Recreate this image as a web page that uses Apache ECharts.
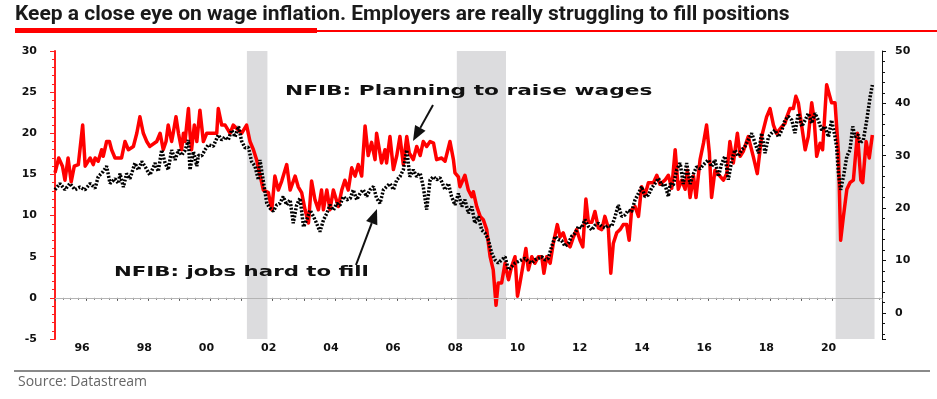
<!DOCTYPE html>
<html>
<head>
<meta charset="utf-8">
<script src="https://cdn.jsdelivr.net/npm/echarts@6/dist/echarts.min.js"></script>
<style>
  html, body { margin: 0; padding: 0; background: #fff; }
  #chart { width: 937px; height: 399px; }
</style>
</head>
<body>
<div id="chart"></div>
<script>
// NFIB: planning to raise wages (left axis), [decimal year, %]
var wagePlans = [
  [1995.00,15.2],[1995.12,17.0],[1995.24,16.0],[1995.32,14.3],[1995.42,17.0],[1995.52,14.1],[1995.62,16.0],[1995.75,16.2],
  [1995.89,21.0],[1995.97,16.0],[1996.13,17.0],[1996.23,16.2],[1996.29,17.0],[1996.39,16.6],[1996.50,18.0],[1996.55,17.2],
  [1996.66,19.0],[1996.75,19.0],[1996.82,18.0],[1996.93,17.0],[1997.14,17.0],[1997.25,19.0],[1997.36,18.0],[1997.52,18.4],
  [1997.63,20.0],[1997.73,22.0],[1997.84,20.0],[1997.95,19.0],[1998.05,18.4],[1998.27,19.0],[1998.38,20.0],[1998.48,18.0],
  [1998.57,19.0],[1998.64,21.0],[1998.75,19.0],[1998.80,20.0],[1998.89,22.0],[1998.97,20.0],[1999.07,18.0],[1999.13,20.0],
  [1999.18,19.0],[1999.29,23.0],[1999.34,20.0],[1999.39,18.0],[1999.48,21.0],[1999.56,19.0],[1999.66,22.8],[1999.77,19.0],
  [1999.88,20.0],[2000.20,20.0],[2000.25,23.0],[2000.36,21.0],[2000.47,21.0],[2000.63,20.0],[2000.73,21.0],[2001.00,20.0],
  [2001.16,21.0],[2001.27,19.0],[2001.38,18.0],[2001.48,16.8],[2001.70,13.1],[2001.86,12.8],[2001.97,10.7],[2002.07,14.8],
  [2002.18,13.1],[2002.29,14.2],[2002.45,16.2],[2002.56,13.1],[2002.72,14.8],[2002.82,13.5],[2002.93,12.8],[2003.04,10.7],
  [2003.15,9.1],[2003.25,14.2],[2003.36,11.9],[2003.47,10.7],[2003.57,13.1],[2003.63,10.7],[2003.74,13.1],[2003.84,10.7],
  [2003.95,13.1],[2004.11,11.1],[2004.22,13.1],[2004.32,14.3],[2004.43,13.1],[2004.54,15.8],[2004.65,14.8],[2004.75,16.2],
  [2004.86,14.8],[2004.97,20.9],[2005.07,17.3],[2005.18,18.9],[2005.29,16.8],[2005.34,20.0],[2005.50,16.4],[2005.61,18.0],
  [2005.66,16.4],[2005.77,19.6],[2005.88,15.6],[2005.99,17.3],[2006.09,19.6],[2006.20,16.2],[2006.31,19.6],[2006.39,17.6],
  [2006.52,16.8],[2006.63,18.4],[2006.74,17.3],[2006.84,19.0],[2006.95,18.4],[2007.06,19.0],[2007.17,18.8],[2007.27,16.8],
  [2007.43,17.0],[2007.54,16.6],[2007.70,19.0],[2007.81,16.8],[2007.86,15.2],[2007.97,14.7],[2008.02,13.5],[2008.18,14.9],
  [2008.29,13.1],[2008.40,12.3],[2008.45,12.9],[2008.56,11.1],[2008.67,9.9],[2008.77,9.5],[2008.88,8.3],[2008.99,5.0],
  [2009.09,3.4],[2009.18,-0.9],[2009.25,1.8],[2009.36,1.8],[2009.47,4.2],[2009.58,2.2],[2009.68,3.8],[2009.79,5.0],
  [2009.87,0.2],[2009.95,1.8],[2010.06,4.2],[2010.14,6.0],[2010.22,3.4],[2010.33,5.0],[2010.43,4.2],[2010.54,5.0],
  [2010.65,5.0],[2010.72,3.0],[2010.81,5.0],[2010.92,4.2],[2011.02,6.6],[2011.15,8.9],[2011.24,7.4],[2011.34,7.9],
  [2011.45,6.6],[2011.56,6.2],[2011.67,7.4],[2011.77,8.3],[2011.88,7.0],[2011.97,6.2],[2012.07,12.0],[2012.15,9.2],
  [2012.26,9.2],[2012.36,10.5],[2012.47,8.5],[2012.58,8.3],[2012.68,9.9],[2012.79,8.5],[2012.87,3.0],[2012.95,6.6],
  [2013.06,7.9],[2013.17,8.3],[2013.27,8.9],[2013.38,8.9],[2013.46,7.0],[2013.54,10.7],[2013.65,11.1],[2013.76,9.9],
  [2013.86,13.5],[2013.97,12.5],[2014.08,14.0],[2014.24,14.0],[2014.35,14.9],[2014.45,13.8],[2014.51,14.0],[2014.61,14.3],
  [2014.72,14.9],[2014.83,13.3],[2014.94,18.0],[2015.04,13.2],[2015.15,14.3],[2015.26,13.2],[2015.33,15.5],[2015.42,12.2],
  [2015.53,14.8],[2015.61,12.2],[2015.74,16.8],[2015.85,18.8],[2015.95,21.0],[2016.04,17.6],[2016.11,12.2],[2016.22,15.5],
  [2016.38,14.8],[2016.49,14.3],[2016.60,15.1],[2016.70,19.0],[2016.81,16.4],[2016.94,20.0],[2017.03,17.2],[2017.13,17.8],
  [2017.29,19.6],[2017.45,17.2],[2017.58,15.1],[2017.72,19.6],[2017.88,22.0],[2017.99,23.0],[2018.10,21.0],[2018.20,20.0],
  [2018.37,20.8],[2018.47,21.2],[2018.53,22.0],[2018.63,23.0],[2018.74,23.0],[2018.82,24.5],[2018.90,23.7],[2018.98,21.6],
  [2019.12,18.0],[2019.22,19.6],[2019.33,23.7],[2019.41,21.6],[2019.49,17.2],[2019.60,18.8],[2019.68,18.0],[2019.81,25.9],
  [2019.97,23.7],[2020.08,23.7],[2020.19,17.6],[2020.26,7.0],[2020.35,9.9],[2020.46,13.2],[2020.56,14.0],[2020.67,14.3],
  [2020.80,20.0],[2020.91,14.3],[2020.97,14.0],[2021.08,19.0],[2021.18,17.0],[2021.28,19.8]
];

// NFIB: jobs hard to fill (right axis), [decimal year, %]
var hardToFill = [
  [1995.00,23.5],[1995.16,24.7],[1995.32,23.5],[1995.48,24.7],[1995.64,23.5],[1995.80,24.0],[1995.96,23.5],[1996.13,24.7],
  [1996.29,23.8],[1996.39,26.0],[1996.55,27.0],[1996.66,28.0],[1996.77,24.7],[1996.93,25.6],[1997.04,24.7],[1997.09,26.6],
  [1997.20,24.0],[1997.30,26.6],[1997.41,25.6],[1997.57,28.6],[1997.68,27.3],[1997.79,28.9],[1997.89,28.0],[1998.05,26.3],
  [1998.22,28.6],[1998.32,27.0],[1998.43,31.1],[1998.54,28.6],[1998.64,27.3],[1998.75,31.1],[1998.86,29.2],[1998.97,31.1],
  [1999.07,30.1],[1999.18,31.0],[1999.29,33.0],[1999.34,27.3],[1999.45,30.8],[1999.56,28.0],[1999.61,30.1],[1999.72,30.0],
  [1999.82,31.1],[1999.93,32.1],[2000.09,31.8],[2000.25,34.0],[2000.36,33.0],[2000.47,33.6],[2000.57,33.0],[2000.68,34.9],
  [2000.79,33.6],[2000.90,35.6],[2001.00,32.8],[2001.11,31.5],[2001.22,31.6],[2001.32,28.9],[2001.43,28.0],[2001.54,25.4],
  [2001.59,29.2],[2001.70,25.1],[2001.81,20.9],[2001.91,20.0],[2002.02,19.4],[2002.13,20.6],[2002.23,20.9],[2002.34,22.2],
  [2002.45,20.6],[2002.56,21.6],[2002.66,17.1],[2002.77,20.6],[2002.88,21.9],[2002.99,16.4],[2003.09,17.7],[2003.20,19.6],
  [2003.31,18.4],[2003.41,17.1],[2003.52,15.5],[2003.63,17.7],[2003.74,19.0],[2003.84,20.6],[2003.95,19.6],[2004.06,20.9],
  [2004.16,20.5],[2004.27,22.2],[2004.38,21.6],[2004.49,21.8],[2004.59,23.5],[2004.70,21.6],[2004.81,22.8],[2004.91,23.5],
  [2005.02,22.2],[2005.13,23.5],[2005.24,24.1],[2005.34,21.9],[2005.45,20.9],[2005.56,23.5],[2005.66,24.1],[2005.77,24.7],
  [2005.88,23.5],[2005.99,25.4],[2006.09,26.0],[2006.20,27.3],[2006.31,31.1],[2006.41,26.0],[2006.52,27.3],[2006.63,26.0],
  [2006.74,26.7],[2006.84,24.1],[2006.95,19.7],[2007.06,25.4],[2007.17,26.0],[2007.27,25.4],[2007.38,25.8],[2007.54,23.5],
  [2007.65,24.7],[2007.75,22.2],[2007.86,20.6],[2007.97,22.8],[2008.08,20.3],[2008.18,21.6],[2008.29,19.0],[2008.40,20.3],
  [2008.50,17.1],[2008.61,18.4],[2008.72,15.8],[2008.83,15.2],[2008.93,14.0],[2009.04,11.4],[2009.15,10.1],[2009.25,9.5],
  [2009.36,10.1],[2009.47,10.7],[2009.58,8.2],[2009.68,8.8],[2009.79,9.5],[2009.90,9.8],[2010.00,10.1],[2010.11,10.4],
  [2010.22,9.8],[2010.33,9.5],[2010.43,10.1],[2010.54,10.4],[2010.65,10.7],[2010.76,10.1],[2010.86,10.4],[2010.97,12.7],
  [2011.08,14.6],[2011.18,14.0],[2011.29,13.8],[2011.40,12.7],[2011.51,13.3],[2011.61,14.6],[2011.72,15.2],[2011.83,16.5],
  [2011.93,16.2],[2012.04,17.8],[2012.15,16.5],[2012.26,15.8],[2012.36,16.7],[2012.47,17.1],[2012.58,16.5],[2012.69,16.2],
  [2012.79,16.7],[2012.90,16.5],[2013.01,18.4],[2013.11,20.6],[2013.22,18.4],[2013.33,18.7],[2013.43,19.6],[2013.54,19.3],
  [2013.65,21.6],[2013.76,22.8],[2013.86,24.1],[2013.97,22.2],[2014.08,22.5],[2014.18,23.8],[2014.29,24.7],[2014.40,25.7],
  [2014.51,24.4],[2014.61,24.6],[2014.72,22.2],[2014.78,24.6],[2014.88,24.4],[2014.99,27.3],[2015.10,28.6],[2015.20,24.6],
  [2015.31,28.6],[2015.42,24.6],[2015.53,26.6],[2015.63,27.9],[2015.74,27.5],[2015.90,28.6],[2016.01,29.2],[2016.11,27.9],
  [2016.22,29.2],[2016.33,26.0],[2016.44,28.6],[2016.54,29.9],[2016.65,25.4],[2016.76,29.2],[2016.86,31.1],[2016.97,29.9],
  [2017.08,31.1],[2017.19,31.8],[2017.29,33.0],[2017.40,34.3],[2017.51,32.4],[2017.62,30.5],[2017.72,34.3],[2017.83,30.5],
  [2017.94,33.6],[2018.04,34.3],[2018.15,34.9],[2018.26,33.6],[2018.37,34.9],[2018.47,36.8],[2018.58,37.5],[2018.69,36.8],
  [2018.79,34.3],[2018.90,38.1],[2019.01,35.6],[2019.12,36.8],[2019.22,38.1],[2019.33,36.2],[2019.44,38.1],[2019.54,36.8],
  [2019.65,34.9],[2019.76,35.6],[2019.87,33.6],[2019.97,36.8],[2020.08,33.6],[2020.13,31.8],[2020.19,26.6],[2020.26,23.5],
  [2020.35,26.0],[2020.46,29.9],[2020.56,31.1],[2020.65,35.6],[2020.72,33.6],[2020.83,34.0],[2020.88,32.4],[2020.99,33.0],
  [2021.10,36.8],[2021.21,41.3],[2021.28,43.5]
];

// US recessions (shaded)
var recessions = [[2001.17, 2001.83], [2007.92, 2009.5], [2020.1, 2021.35]];

var titleText = 'Keep a close eye on wage inflation. Employers are really struggling to fill positions';
var sourceText = 'Source: Datastream';
var wageLabel = 'NFIB: Planning to raise wages';
var fillLabel = 'NFIB: jobs hard to fill';

var chart = echarts.init(document.getElementById('chart'));

var axisFont = { fontFamily: 'DejaVu Sans', fontWeight: 'bold', fontSize: 11, color: '#111' };
var annoFont = 'bold 14px "DejaVu Sans"';

// arrow = shaft + head triangle
function arrow(x1, y1, x2, y2) {
  var dx = x2 - x1, dy = y2 - y1, len = Math.sqrt(dx * dx + dy * dy);
  var ux = dx / len, uy = dy / len, hl = 15, hw = 6;
  var bx = x2 - ux * hl, by = y2 - uy * hl;
  return [
    { type: 'line', shape: { x1: x1, y1: y1, x2: bx, y2: by }, style: { stroke: '#111', lineWidth: 2 } },
    { type: 'polygon', shape: { points: [[x2, y2], [bx - uy * hw, by + ux * hw], [bx + uy * hw, by - ux * hw]] }, style: { fill: '#111' } }
  ];
}

var option = {
  animation: false,
  backgroundColor: '#fff',
  grid: { left: 55, right: 55, top: 51, bottom: 60 },
  xAxis: {
    type: 'value', min: 1995, max: 2021.59, interval: 1,
    axisLine: { lineStyle: { color: '#555', type: 'dotted', width: 1 } },
    axisTick: { length: 3, lineStyle: { color: '#555' } },
    minorTick: { show: true, splitNumber: 4, length: 2, lineStyle: { color: '#777' } },
    splitLine: { show: false },
    axisLabel: Object.assign({
      margin: 4,
      padding: [0, 8, 0, 0],
      formatter: function (v) { return (v % 2 === 0) ? String(v).slice(2) : ''; }
    }, axisFont)
  },
  yAxis: [
    {
      type: 'value', min: -5, max: 30, interval: 5, position: 'left',
      axisLine: { show: true, lineStyle: { color: '#ff2020', width: 2 } },
      axisTick: { show: true, length: 5, lineStyle: { color: '#ff2020' } },
      minorTick: { show: true, splitNumber: 5, length: 3, lineStyle: { color: '#ff2020' } },
      splitLine: { show: false },
      axisLabel: Object.assign({ margin: 18 }, axisFont)
    },
    {
      type: 'value', min: -5, max: 50, splitNumber: 5, position: 'right',
      axisLine: { show: true, lineStyle: { color: '#111', width: 1 } },
      axisTick: { show: true, length: 4, lineStyle: { color: '#111' } },
      minorTick: { show: true, splitNumber: 5, length: 3, lineStyle: { color: '#111' } },
      splitLine: { show: false },
      axisLabel: Object.assign({
        margin: 13,
        formatter: function (v) { return v < 0 ? '' : String(v); }
      }, axisFont)
    }
  ],
  series: [
    {
      name: wageLabel, type: 'line', yAxisIndex: 0, data: wagePlans,
      showSymbol: false, z: 3,
      lineStyle: { color: '#ff0000', width: 3.5, join: 'round' },
      markArea: {
        silent: true,
        itemStyle: { color: '#dcdcde' },
        data: recessions.map(function (r) { return [{ xAxis: r[0] }, { xAxis: r[1] }]; })
      },
      markLine: {
        silent: true, symbol: 'none', label: { show: false },
        lineStyle: { color: '#b4b4b4', width: 1, type: 'solid' },
        data: [{ yAxis: 0 }]
      }
    },
    {
      name: fillLabel, type: 'line', yAxisIndex: 1, data: hardToFill,
      showSymbol: false, z: 4,
      lineStyle: { color: '#000', width: 3.5, type: [2, 1.6] }
    }
  ],
  graphic: [
    { type: 'text', x: 15, y: 4, style: { text: titleText, font: 'bold 21px Roboto', fill: '#1a1a1a' } },
    { type: 'rect', shape: { x: 15, y: 30, width: 922, height: 2 }, style: { fill: '#ff0000' } },
    { type: 'rect', shape: { x: 15, y: 28, width: 302, height: 5 }, style: { fill: '#ff0000' } },
    { type: 'rect', shape: { x: 14, y: 370, width: 916, height: 2 }, style: { fill: '#8a8a8a' } },
    { type: 'text', x: 18, y: 375, style: { text: sourceText, font: '14px "Open Sans"', fill: '#666' } },
    { type: 'text', x: 285, y: 84, scaleX: 1.55, z: 10, style: { text: wageLabel, font: annoFont, fill: '#111' } },
    { type: 'text', x: 114, y: 265, scaleX: 1.52, z: 10, style: { text: fillLabel, font: annoFont, fill: '#111' } }
  ].concat(arrow(433, 105, 413, 141), arrow(356, 265, 377, 209))
};

chart.setOption(option);
</script>
</body>
</html>
